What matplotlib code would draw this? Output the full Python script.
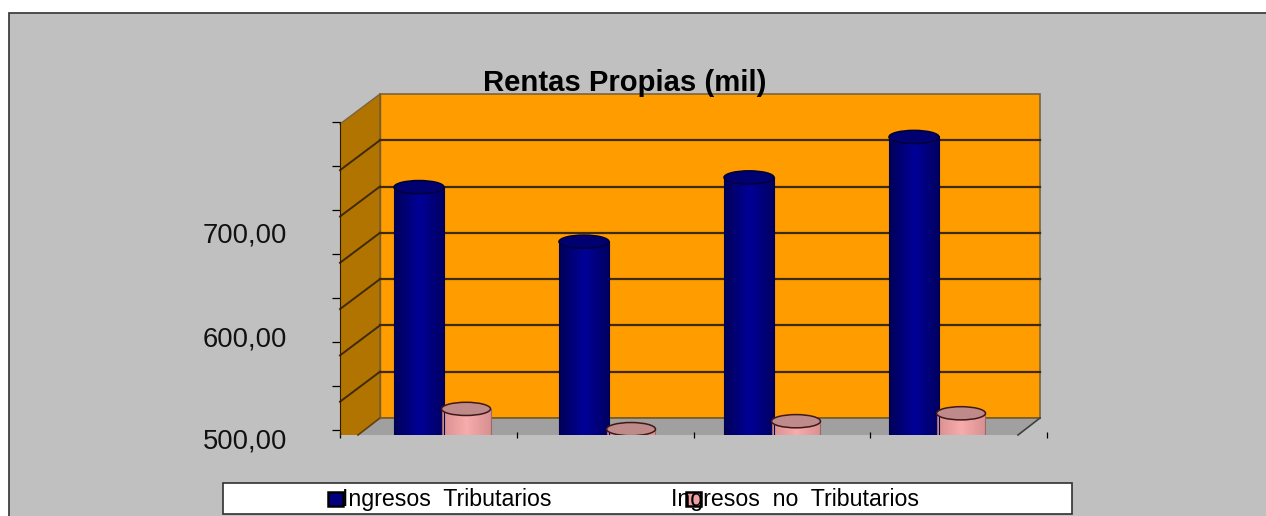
import matplotlib
matplotlib.use("Agg")
import matplotlib.pyplot as plt
from matplotlib.colors import LinearSegmentedColormap
from matplotlib.patches import Rectangle, Polygon, Ellipse
import numpy as np

plt.rcParams['font.family'] = ['Liberation Sans', 'DejaVu Sans']

# values read against the axis ticks
tributarios = [776, 714, 787, 833]
no_tributarios = [524, 501, 510, 519]
series_names = ['Ingresos  Tributarios', 'Ingresos  no  Tributarios']
y_labels = ['700,00', '600,00', '500,00']
y_ticks = [500, 550, 600, 650, 700, 750, 800, 850]
x_ticks = [0, 1, 2, 3, 4]

W, H = 1266, 516
PX_PER_UNIT = 0.88
DEPTH_SCALE = 0.9335


def value_at(py):
    return 500 + (430 - py) / PX_PER_UNIT


def back_y(v):
    return 418 - (v - 500) * 46.3 / 50


def draw_cylinder(ax, cx, width, bottom, top, cmap, cap_color, side_color, cap_edge, cap_h):
    grad = np.linspace(0, 1, 64).reshape(1, -1)
    ax.imshow(grad, extent=[cx - width / 2, cx + width / 2, bottom, top], aspect='auto',
              cmap=cmap, vmin=0, vmax=1, zorder=3, interpolation='bilinear')
    ax.plot([cx - width / 2] * 2, [bottom, top], color=side_color, lw=0.8, zorder=4)
    ax.plot([cx + width / 2] * 2, [bottom, top], color=side_color, lw=0.8, zorder=4)
    ax.add_patch(Ellipse((cx, top), width, cap_h, facecolor=cap_color, edgecolor=cap_edge, lw=1.1, zorder=5))


fig = plt.figure(figsize=(W / 100, H / 100), dpi=100, facecolor='white')

# chart furniture in pixel coordinates
bg = fig.add_axes([0, 0, 1, 1])
bg.set_xlim(0, W)
bg.set_ylim(H, 0)
bg.axis('off')
bg.add_patch(Rectangle((8.5, 12.5), W + 20, H, facecolor='#C0C0C0', edgecolor='#404040', lw=1.3))
bg.add_patch(Polygon([(340, 124), (380, 94), (380, 418), (358, 435), (340, 435)],
                     facecolor='#B27400', edgecolor='none'))
bg.add_patch(Polygon([(380, 94), (1040, 94), (1040, 418), (380, 418)],
                     facecolor='#FF9C00', edgecolor='#7A6440', lw=1.2))
bg.add_patch(Polygon([(380, 418), (1040, 418), (1018, 435), (358, 435)],
                     facecolor='#A0A0A0', edgecolor='none'))
bg.plot([380, 1040], [418, 418], color='#7A5A20', lw=1.2)
bg.plot([1040, 1018], [418, 435], color='#404040', lw=1.2)
bg.plot([380, 358], [418, 435], color='#604010', lw=1.2)
bg.plot([340, 380], [124, 94], color='#7A6440', lw=1)
bg.plot([380, 380], [94, 418], color='#7A5A20', lw=1)
for v in y_ticks[1:-1]:
    by = back_y(v)
    bg.plot([380, 1040], [by, by], color='#3F2A08', lw=1.6)
    bg.plot([340, 380], [by + 30, by], color='#3F2A08', lw=1.4)

bg.text(625, 91, 'Rentas Propias (mil)', fontsize=21.1, fontweight='bold', ha='center', va='baseline', color='black')
for label, py in zip(y_labels, [236, 339, 442]):
    bg.text(287, py, label, fontsize=19.7, ha='right', va='center', color='#111111')

# legend box, built by hand because the swatches sit on top of the text
bg.add_patch(Rectangle((222.5, 482.5), 849, 31, facecolor='white', edgecolor='#303030', lw=1.2))
bg.add_patch(Rectangle((328, 491.5), 15, 14, facecolor='#000080', edgecolor='black', lw=1.8, zorder=1))
bg.add_patch(Rectangle((686, 491.5), 15, 14, facecolor='#F0A0A0', edgecolor='black', lw=1.8, zorder=1))
bg.text(342, 499.5, series_names[0], fontsize=16.7, ha='left', va='center', color='black', zorder=3)
bg.text(671, 499.5, series_names[1], fontsize=16.7, ha='left', va='center', color='black', zorder=3)

# data axes on top of the walls
ax = fig.add_axes([340 / W, (H - 435) / H, 707 / W, (435 - 94) / H])
ax.patch.set_visible(False)

blue = LinearSegmentedColormap.from_list('blue', ['#000058', '#000098', '#000060'])
pink = LinearSegmentedColormap.from_list('pink', ['#D89090', '#F8ACAC', '#D89090'])
ymin = value_at(435)
ymax = value_at(94)
for i in range(4):
    cx = 0.447 + i * DEPTH_SCALE
    draw_cylinder(ax, cx, 0.283, ymin, tributarios[i], blue, '#000070', '#000050', '#000038', 15)
    draw_cylinder(ax, cx + 0.266, 0.277, ymin, no_tributarios[i], pink, '#BE8A8A', '#9A6A6A', '#401818', 15)

ax.set_xlim(0, 4)
ax.set_ylim(ymin, ymax)
ax.set_xticks(x_ticks)
ax.set_yticks(y_ticks)
ax.set_xticklabels([])
ax.set_yticklabels([])
ax.tick_params(axis='y', direction='out', length=5.8, width=0.9, color='black')
ax.tick_params(axis='x', direction='inout', length=5, width=0.9, color='black')
for side in ['top', 'right', 'bottom']:
    ax.spines[side].set_visible(False)
ax.spines['left'].set_bounds(ymin, y_ticks[-1])
ax.spines['left'].set_color('#2A1A00')

fig.savefig('out.png', dpi=100)
